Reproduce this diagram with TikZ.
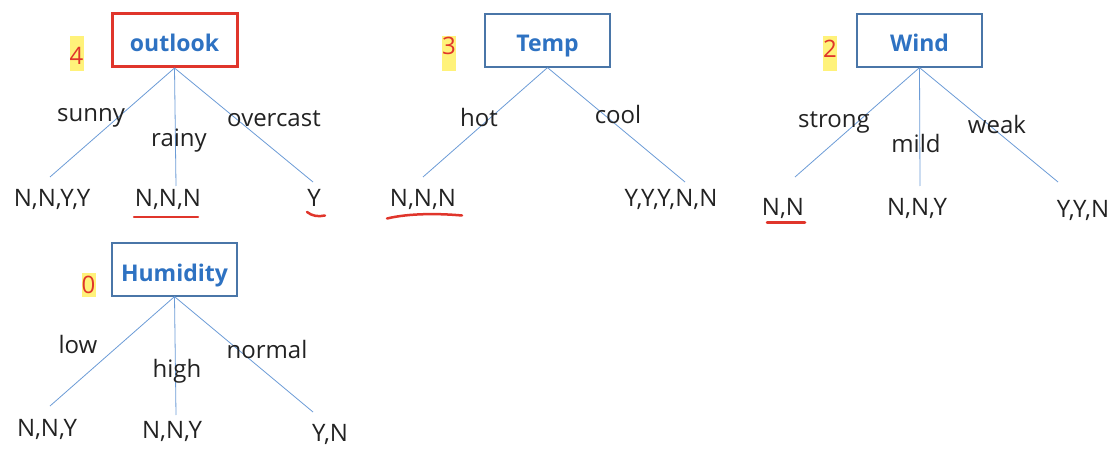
\documentclass[tikz,border=0pt]{standalone}
\usepackage{fontspec}
\setmainfont{Open Sans}
\usepackage{xcolor}
\definecolor{boxline}{HTML}{4A76A8}
\definecolor{titleblue}{HTML}{2E72C2}
\definecolor{edgeblue}{HTML}{6B9BD6}
\definecolor{inkgray}{HTML}{222222}
\definecolor{markred}{HTML}{E0352B}
\definecolor{hlyellow}{HTML}{FFF27A}

\begin{document}
\begin{tikzpicture}[x=1pt,y=-1pt,
    attr/.style={draw=boxline,line width=1.2pt,minimum width=125pt,minimum height=53pt,inner sep=0pt,
        text=titleblue,font=\fontsize{23}{26}\selectfont\bfseries,text height=24pt,text depth=1pt},
    chosen/.style={draw=markred,line width=3pt},
    edge/.style={draw=edgeblue,line width=0.8pt},
    val/.style={anchor=base,inner sep=0pt,text=inkgray,font=\fontsize{24}{26}\selectfont},
    hl/.style={fill=hlyellow,minimum width=14pt,minimum height=35pt,inner sep=0pt},
    num/.style={anchor=base,inner sep=0pt,text=markred,font=\fontsize{24}{26}\selectfont},
    redline/.style={draw=markred,line width=2.5pt,line cap=round}]

    \useasboundingbox (0,0) rectangle (1113,457);

        \node[attr,chosen] (out) at (174.5,40) {outlook};
        \node[attr] (tmp) at (547.5,40.5) {Temp};
        \node[attr] (wnd) at (919.5,40.5) {Wind};
        \node[attr] (hum) at (174.5,269.5) {Humidity};

        \node[hl] (h4) at (76.5,53.5) {};
        \node[num] (n4) at (76.5,65) {4};
        \node[hl] (h3) at (449,53.5) {};
        \node[num] (n3) at (449,55) {3};
        \node[hl] (h2) at (830,53.5) {};
        \node[num] (n2) at (830,58) {2};
        \node[hl,minimum height=24pt] (h0) at (88.5,285) {};
        \node[num] (n0) at (88.5,293) {0};

        \coordinate (o1) at (50,177);
        \coordinate (o2) at (176,186);
        \coordinate (o3) at (313,182);
        \coordinate (t1) at (423,177);
        \coordinate (t2) at (685,182);
        \coordinate (w1) at (795,177);
        \coordinate (w2) at (920,186);
        \coordinate (w3) at (1058,182);
        \coordinate (u1) at (50,406);
        \coordinate (u2) at (176,415);
        \coordinate (u3) at (313,412);

        \draw[edge] (out.south) -- (o1);
        \draw[edge] (out.south) -- (o2);
        \draw[edge] (out.south) -- (o3);
        \draw[edge] (tmp.south) -- (t1);
        \draw[edge] (tmp.south) -- (t2);
        \draw[edge] (wnd.south) -- (w1);
        \draw[edge] (wnd.south) -- (w2);
        \draw[edge] (wnd.south) -- (w3);
        \draw[edge] (hum.south) -- (u1);
        \draw[edge] (hum.south) -- (u2);
        \draw[edge] (hum.south) -- (u3);

        \node[val] (lo1) at (91,122) {sunny};
        \node[val] (lo2) at (179,147) {rainy};
        \node[val] (lo3) at (274,127) {overcast};
        \node[val] (lt1) at (479,127) {hot};
        \node[val] (lt2) at (618,124) {cool};
        \node[val] (lw1) at (834,128) {strong};
        \node[val] (lw2) at (916,153) {mild};
        \node[val] (lw3) at (997,134) {weak};
        \node[val] (lu1) at (78,353) {low};
        \node[val] (lu2) at (177,377) {high};
        \node[val] (lu3) at (267,358) {normal};

        \node[val] (vo1) at (52,207) {N,N,Y,Y};
        \node[val] (vo2) at (168,207) {N,N,N};
        \node[val] (vo3) at (314,207) {Y};
        \node[val] (vt1) at (423,207) {N,N,N};
        \node[val] (vt2) at (671,207) {Y,Y,Y,N,N};
        \node[val] (vw1) at (783,215) {N,N};
        \node[val] (vw2) at (917,215) {N,N,Y};
        \node[val] (vw3) at (1083,218) {Y,Y,N};
        \node[val] (vu1) at (47,436) {N,N,Y};
        \node[val] (vu2) at (172,438) {N,N,Y};
        \node[val] (vu3) at (330,441) {Y,N};

        \draw[redline] (134,217) -- (198,217);
        \draw[redline] (307,212) .. controls (312,216) and (318,217) .. (325,215.5);
        \draw[redline] (387,218.5) .. controls (410,213) and (440,213.5) .. (462,215.5);
        \draw[redline] (767,222.5) -- (805,222.5);

\end{tikzpicture}
\end{document}
